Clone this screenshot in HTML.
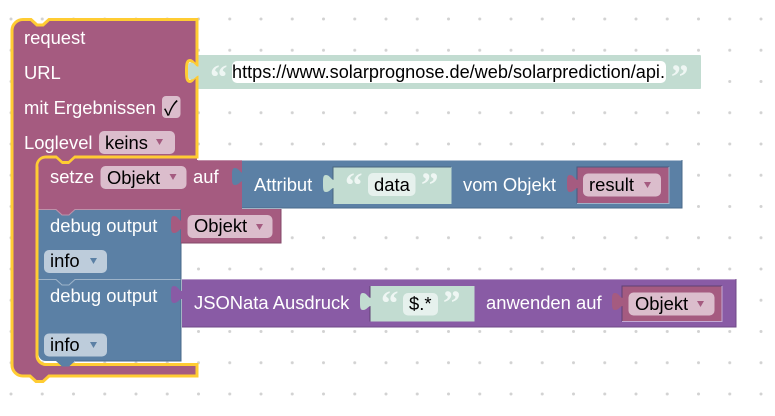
<!DOCTYPE html>
<html><head><meta charset="utf-8"><style>
html,body{margin:0;padding:0;background:#fff}
svg{display:block}
text{font-family:"Liberation Sans",sans-serif;font-size:18.4px;fill:#fff}
text.d{fill:#000}
text.q{font-family:"Liberation Serif",serif;font-weight:bold;font-size:35px;fill:#eef6f3}
</style></head><body>
<svg width="775" height="416" viewBox="0 0 775 416" xmlns="http://www.w3.org/2000/svg">
<defs>
<pattern id="g" x="9.5" y="17.5" width="31.25" height="31.25" patternUnits="userSpaceOnUse"><circle cx="1.5" cy="1.5" r="1.5" fill="#d2d2d2"/></pattern>
<path id="tab" d="M1,5 C-2,5 -3,0 -7,0 C-10,0 -10,3 -10,8.500 C-10,14 -10,17 -7,17 C-3,17 -2,13 1,13 Z"/>
</defs>
<rect x="0" y="15" width="775" height="385" fill="url(#g)"/>

<!-- URL string block -->
<rect x="197" y="55" width="504" height="34" rx="1" fill="#c2dcd1"/>
<rect x="232" y="61" width="434" height="22" rx="5" fill="#fff"/>
<text class="q" x="210" y="88.500">“</text>
<text class="q" x="671" y="88.500">”</text>
<text class="d" x="232" y="78" textLength="433" lengthAdjust="spacingAndGlyphs">https://www.solarprognose.de/web/solarprediction/api.</text>

<!-- outer request block -->
<path d="M12,30 A11,11 0 0 1 23,19.500 H31 L37,25 H43 L49,19.500 H197 V65 C194,65 193,60.500 190,60.500 C187,60.500 186.500,64 186.500,71 C186.500,78 187,81.500 190,81.500 C193,81.500 194,76 197,76 V157 H75 L69,162.500 H62 L56,157 H46 A9,9 0 0 0 37,166 V355 A9,9 0 0 0 46,364.500 H197 V376 H49 L43,381.500 H36 L30,376 H23 A11,11 0 0 1 12,365 Z" fill="#a55b80" stroke="#fc3" stroke-width="3"/>
<use href="#tab" x="198" y="62.500" fill="#c2dcd1"/>
<text x="24" y="44">request</text>
<text x="24" y="79">URL</text>
<text x="24" y="114">mit Ergebnissen</text>
<rect x="162" y="96" width="18.500" height="22" rx="4" fill="#dbbdcc"/>
<text class="d" x="164" y="115" style="font-family:'Noto Sans CJK JP',sans-serif;font-size:20px">✓</text>
<text x="24" y="149">Loglevel</text>
<rect x="99" y="131" width="76" height="23" rx="5" fill="#dbbdcc"/>
<text class="d" x="105" y="149">keins</text>
<path d="M156,139 h7 l-3.500,6 z" fill="#a55b80"/>

<!-- setze block -->
<path d="M38.500,167 A7,7 0 0 1 46,158.500 H56 L62,164 H69 L75,158.500 H197 V160 H242 V209 H75 L69,214.500 H62 L56,209 H38.500 Z" fill="#a55b80"/>
<path d="M198,160.500 H242" fill="none" stroke="#c08ca6" stroke-width="1"/>
<text x="50" y="183">setze</text>
<rect x="100.500" y="166" width="86" height="23" rx="5" fill="#dbbdcc"/>
<text class="d" x="107" y="184">Objekt</text>
<path d="M169.500,174 h7 l-3.500,6 z" fill="#a55b80"/>
<text x="193" y="183">auf</text>

<!-- Attribut block -->
<rect x="242" y="160" width="440" height="48" fill="#5b80a5"/>
<path d="M242,160.500 H682" stroke="#aebfd2" stroke-width="1"/>
<path d="M242,208 H682 V160" fill="none" stroke="#4a6a8a" stroke-width="1"/>
<use href="#tab" x="242" y="168" fill="#5b80a5"/>
<text x="254" y="191">Attribut</text>
<rect x="333" y="167" width="118.500" height="37" fill="#c2dcd1"/>
<path d="M333,204 V167 H451" fill="none" stroke="#49667f" stroke-width="1"/>
<use href="#tab" x="333" y="175" fill="#c2dcd1"/>
<text class="q" x="345" y="196.500">“</text>
<rect x="368" y="173" width="47.500" height="23" rx="5" fill="#e6f1ed"/>
<text class="d" x="374" y="191">data</text>
<text class="q" x="421" y="196.500">”</text>
<text x="463" y="191">vom Objekt</text>
<rect x="577" y="167" width="92" height="36.500" fill="#a55b80"/>
<path d="M577,203.500 V167 H669" fill="none" stroke="#4a5a80" stroke-width="1"/>
<path d="M577,203.500 H669 V167" fill="none" stroke="#9fb3c9" stroke-width="1"/>
<use href="#tab" x="577" y="175" fill="#a55b80"/>
<rect x="583" y="173.500" width="78" height="23" rx="5" fill="#dbbdcc"/>
<text class="d" x="589" y="191">result</text>
<path d="M644,182 h7 l-3.500,6 z" fill="#a55b80"/>

<!-- debug 1 -->
<path d="M38.500,209 H56 L62,214.500 H69 L75,209 H181 V279 H75 L69,284.500 H62 L56,279 H38.500 Z" fill="#5b80a5"/>
<path d="M38.500,209.500 H56 L62,215 H69 L75,209.500 H181" fill="none" stroke="#bd92aa" stroke-width="1"/>
<path d="M181,209 V279" stroke="#4a6a8a" stroke-width="1"/>
<rect x="181" y="209" width="100" height="34" fill="#a55b80"/>
<path d="M181,243 H281 V209" fill="none" stroke="#84496a" stroke-width="1"/>
<use href="#tab" x="181" y="216" fill="#a55b80"/>
<text x="50" y="232">debug output</text>
<rect x="187.500" y="215" width="85" height="23" rx="5" fill="#dbbdcc"/>
<text class="d" x="194" y="232">Objekt</text>
<path d="M256,224 h7 l-3.500,6 z" fill="#a55b80"/>
<rect x="44" y="250" width="63" height="23" rx="5" fill="#bdccdb"/>
<text class="d" x="50" y="267">info</text>
<path d="M90,258 h7 l-3.500,6 z" fill="#5b80a5"/>

<!-- debug 2 -->
<path d="M38.500,279 H56 L62,284.500 H69 L75,279 H181 V361 H75 L69,366.500 H62 L56,361 H46 A7,7 0 0 1 38.500,354 Z" fill="#5b80a5"/>
<path d="M38.500,279.500 H56 L62,285 H69 L75,279.500 H181" fill="none" stroke="#9db3c9" stroke-width="1"/>
<path d="M181,279 V361 H75" fill="none" stroke="#4a6a8a" stroke-width="1"/>
<text x="50" y="302">debug output</text>
<rect x="44" y="333.500" width="63" height="23" rx="5" fill="#bdccdb"/>
<text class="d" x="50" y="351">info</text>
<path d="M90,342 h7 l-3.500,6 z" fill="#5b80a5"/>

<!-- JSONata -->
<rect x="182" y="279" width="554" height="48" fill="#895ba5"/>
<path d="M182,279.500 H736" stroke="#b79ac9" stroke-width="1"/>
<path d="M182,327 H736 V279" fill="none" stroke="#6f4a87" stroke-width="1"/>
<use href="#tab" x="181" y="286" fill="#895ba5"/>
<text x="194" y="309">JSONata Ausdruck</text>
<rect x="370" y="286" width="104.500" height="35.500" fill="#c2dcd1"/>
<path d="M370,321.500 V286" fill="none" stroke="#5f4272" stroke-width="1"/>
<use href="#tab" x="370" y="293" fill="#c2dcd1"/>
<text class="q" x="381" y="314.500">“</text>
<rect x="403" y="293" width="35" height="22.500" rx="5" fill="#e6f1ed"/>
<text class="d" x="409" y="310">$.*</text>
<text class="q" x="443" y="314.500">”</text>
<text x="486" y="309">anwenden auf</text>
<rect x="622" y="286" width="100" height="35.500" fill="#a55b80"/>
<path d="M622,321.500 V286 H722" fill="none" stroke="#5f4272" stroke-width="1"/>
<path d="M622,321.500 H722 V286" fill="none" stroke="#c4a8d4" stroke-width="1"/>
<use href="#tab" x="622" y="293" fill="#a55b80"/>
<rect x="628.500" y="292.500" width="86" height="23" rx="5" fill="#dbbdcc"/>
<text class="d" x="635" y="310">Objekt</text>
<path d="M697,301 h7 l-3.500,6 z" fill="#a55b80"/>
</svg>
</body></html>
